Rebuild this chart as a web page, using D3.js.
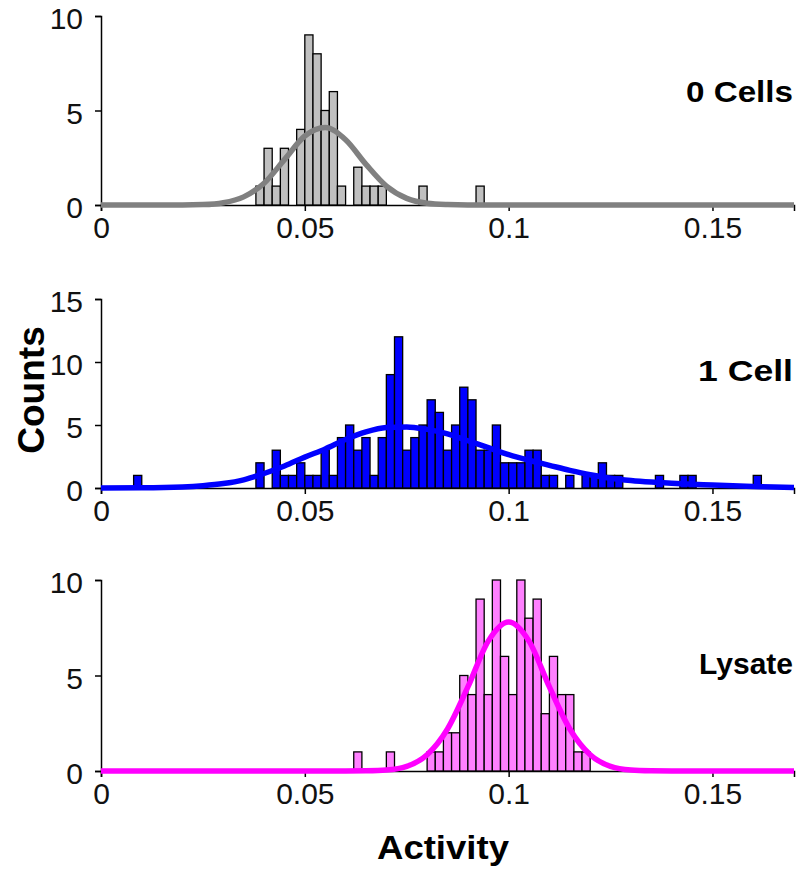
<!DOCTYPE html>
<html>
<head>
<meta charset="utf-8">
<script src="https://cdn.jsdelivr.net/npm/d3@7"></script>
<style>
  html, body { margin: 0; padding: 0; background: #fff; }
  svg { display: block; }
  text { font-family: Arial, "Liberation Sans", sans-serif; }
</style>
</head>
<body>
<svg id="chart" width="800" height="870"></svg>
<script>
// ---------------- DATA ----------------
const binWidth = 0.002;

// Panel 1: 0 Cells
const cells0Label = "0 Cells";
const cells0BinStart = [0.038,0.040,0.042,0.044,0.048,0.050,0.052,0.054,0.056,0.058,0.062,0.064,0.066,0.068,0.078,0.092];
const cells0Counts   = [1,    3,    1,    3,    4,    9,    8,    5,    6,    1,    2,    1,    1,    1,    1,    1];
const cells0CurveX = [0,0.02,0.025,0.03,0.035,0.04,0.045,0.05,0.055,0.06,0.065,0.07,0.075,0.08,0.085,0.09,0.1,0.17];
const cells0CurveY = [0,0.0, 0.02, 0.12,0.43, 1.15,2.4,  3.65,4.1,  3.45,2.15, 1.0, 0.35, 0.09,0.02, 0.0, 0,  0];

// Panel 2: 1 Cell
const cell1Label = "1 Cell";
const cell1BinStart = [0.008,0.038,0.042,0.044,0.046,0.048,0.050,0.052,0.054,0.056,0.058,0.060,0.062,0.064,0.066,0.068,0.070,0.072,0.074,0.076,0.078,0.080,0.082,0.084,0.086,0.088,0.090,0.092,0.094,0.096,0.098,0.100,0.102,0.104,0.106,0.108,0.110,0.114,0.118,0.120,0.122,0.124,0.126,0.136,0.142,0.144,0.160];
const cell1Counts   = [1,    2,    3,    1,    1,    2,    1,    1,    3,    1,    4,    5,    3,    4,    1,    4,    9,    12,   3,    4,    5,    7,    6,    3,    5,    8,    7,    3,    3,    5,    2,    2,    2,    3,    3,    1,    1,    1,    1,    1,    2,    1,    1,    1,    1,    1,    1];
const cell1CurveX = [0,0.01,0.02,0.025,0.03,0.035,0.04,0.045,0.05,0.055,0.06,0.065,0.07,0.075,0.08,0.085,0.09,0.095,0.1,0.105,0.11,0.115,0.12,0.125,0.13,0.135,0.14,0.145,0.15,0.155,0.16,0.165,0.17];
const cell1CurveY = [0,0.01,0.08,0.18, 0.35,0.65, 1.15,1.75, 2.45,3.1, 3.85,4.45, 4.8, 4.85, 4.65,4.3, 3.75,3.2,  2.65,2.2,  1.8, 1.4,  1.05,0.78, 0.6, 0.47, 0.37,0.29, 0.23,0.17, 0.12,0.07, 0.04];

// Panel 3: Lysate
const lysateLabel = "Lysate";
const lysateBinStart = [0.062,0.070,0.080,0.082,0.084,0.086,0.088,0.090,0.092,0.094,0.096,0.098,0.100,0.102,0.104,0.106,0.108,0.110,0.112,0.114,0.116,0.118];
const lysateCounts   = [1,    1,    1,    1,    2,    2,    5,    4,    9,    4,    10,   6,    4,    10,   8,    9,    3,    6,    4,    4,    1,    1];
const lysateCurveX = [0,0.06,0.065,0.07,0.075,0.08,0.085,0.09,0.095,0.1,0.105,0.11,0.115,0.12,0.125,0.13,0.135,0.14,0.17];
const lysateCurveY = [0,0,   0.01, 0.05,0.24, 0.85,2.2,  4.4, 6.8,  7.8,6.8,  4.4, 2.2,  0.85,0.24, 0.05,0.01, 0,   0];

const xTicks = [0, 0.05, 0.1, 0.15];
const xTickLabels = ["0", "0.05", "0.1", "0.15"];
const yTicksSmall = [0, 5, 10];
const yTicksLarge = [0, 5, 10, 15];
const xTitle = "Activity";
const yTitle = "Counts";

// ---------------- DRAW ----------------
const svg = d3.select("#chart");
const x = d3.scaleLinear().domain([0, 0.17]).range([101, 794]);

const panels = [
  { label: cells0Label, starts: cells0BinStart, counts: cells0Counts, cx: cells0CurveX, cy: cells0CurveY,
    yMax: 10, yTicks: yTicksSmall, yTop: 16, yBase: 205, fill: "#c0c0c0", curve: "#808080", labelY: 102, labelW: 107 },
  { label: cell1Label, starts: cell1BinStart, counts: cell1Counts, cx: cell1CurveX, cy: cell1CurveY,
    yMax: 15, yTicks: yTicksLarge, yTop: 299, yBase: 488, fill: "#0000ff", curve: "#0000ff", labelY: 381, labelW: 95 },
  { label: lysateLabel, starts: lysateBinStart, counts: lysateCounts, cx: lysateCurveX, cy: lysateCurveY,
    yMax: 10, yTicks: yTicksSmall, yTop: 580, yBase: 771, fill: "#ff80ff", curve: "#ff00ff", labelY: 674, labelW: null }
];

panels.forEach(p => {
  const y = d3.scaleLinear().domain([0, p.yMax]).range([p.yBase, p.yTop]);
  const g = svg.append("g");

  // x axis
  const xAxis = d3.axisBottom(x).tickValues(xTicks)
    .tickFormat((d, i) => xTickLabels[i]).tickSizeOuter(0).tickSize(6).tickPadding(6);
  const xg = g.append("g").attr("transform", `translate(0,${p.yBase})`).call(xAxis);
  xg.select(".domain").attr("stroke", "#000").attr("stroke-width", 1.5);
  xg.selectAll(".tick line").attr("stroke", "#000").attr("stroke-width", 1.5);
  xg.selectAll(".tick text").attr("font-size", 30).attr("fill", "#111")
    .attr("font-family", "Arial, 'Liberation Sans', sans-serif");

  // y axis
  const yAxis = d3.axisLeft(y).tickValues(p.yTicks).tickSizeOuter(0).tickSize(6).tickPadding(12);
  const yg = g.append("g").attr("transform", `translate(${x(0)},0)`).call(yAxis);
  yg.select(".domain").attr("stroke", "#000").attr("stroke-width", 1.5);
  yg.selectAll(".tick line").attr("stroke", "#000").attr("stroke-width", 1.5);
  yg.selectAll(".tick text").attr("font-size", 30).attr("fill", "#111").attr("dy", "0.42em")
    .attr("font-family", "Arial, 'Liberation Sans', sans-serif");

  // bars
  g.append("g").selectAll("rect")
    .data(p.starts.map((s, i) => ({ s, c: p.counts[i] })))
    .join("rect")
    .attr("x", d => x(d.s))
    .attr("width", d => x(d.s + binWidth) - x(d.s))
    .attr("y", d => y(d.c))
    .attr("height", d => y(0) - y(d.c))
    .attr("fill", p.fill)
    .attr("stroke", "#000")
    .attr("stroke-width", 1.3);

  // fitted curve
  const line = d3.line().x(d => x(d[0])).y(d => y(d[1])).curve(d3.curveMonotoneX);
  g.append("path")
    .datum(p.cx.map((v, i) => [v, p.cy[i]]))
    .attr("d", line)
    .attr("fill", "none")
    .attr("stroke", p.curve)
    .attr("stroke-width", 5.5)
    .attr("stroke-linejoin", "round");

  // panel label
  const t = g.append("text")
    .attr("x", 793).attr("y", p.labelY)
    .attr("text-anchor", "end")
    .attr("font-size", 30).attr("font-weight", "bold").attr("fill", "#000")
    .text(p.label);
  if (p.labelW) t.attr("textLength", p.labelW).attr("lengthAdjust", "spacingAndGlyphs");
});

// axis titles
svg.append("text")
  .attr("x", 443).attr("y", 859)
  .attr("text-anchor", "middle")
  .attr("font-size", 33).attr("font-weight", "bold")
  .attr("textLength", 132).attr("lengthAdjust", "spacingAndGlyphs")
  .text(xTitle);

svg.append("text")
  .attr("transform", "translate(44,390) rotate(-90)")
  .attr("text-anchor", "middle")
  .attr("font-size", 37).attr("font-weight", "bold")
  .text(yTitle);
</script>
</body>
</html>
